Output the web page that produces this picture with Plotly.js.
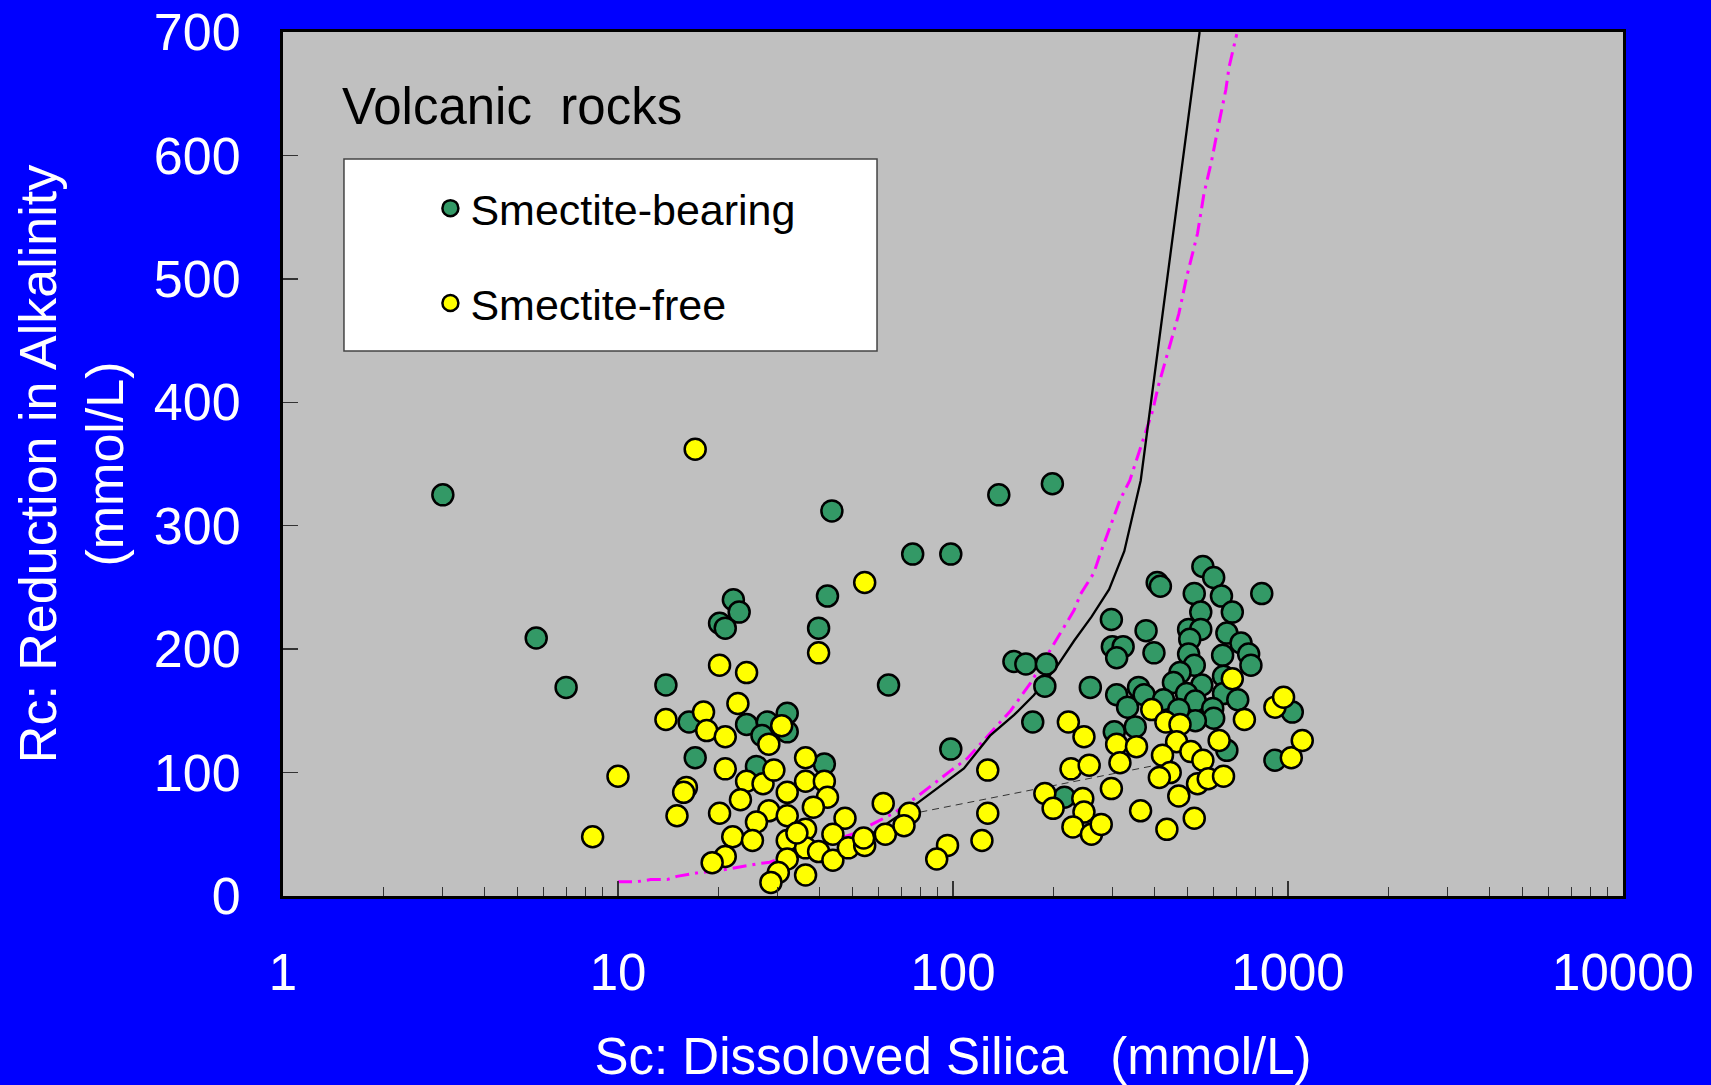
<!DOCTYPE html>
<html>
<head>
<meta charset="utf-8">
<script src="https://cdn.plot.ly/plotly-3.0.1.min.js"></script>
<style>
  html, body { margin: 0; padding: 0; background: #0000FF; }
  #chart { width: 1711px; height: 1085px; }
</style>
</head>
<body>
<div id="chart"></div>
<script>
// ---- Smectite-bearing (green) samples: dissolved silica, reduction in alkalinity
const bearingSilica = [
  3.0, 5.7, 7.0, 13.9, 16.3, 17.0, 20.1, 20.9, 22.1, 23.0, 24.2, 27.9, 32.0, 32.0, 26.9, 25.9,
  41.3, 43.5, 42.2, 39.7, 64.2, 75.8, 98.5, 98.5, 137, 198, 152, 165, 190, 188, 173, 257, 215,
  557, 600, 407, 416, 525, 633, 835, 549, 682, 297, 377, 505, 549, 657, 509, 724, 763, 775,
  299, 322, 308, 398, 638, 505, 525, 476, 553, 455, 642, 642, 708, 308, 332, 358, 372, 425,
  498, 529, 596, 1030, 914, 350, 303, 657, 600, 529, 472
];
const bearingAlk = [
  325, 209, 169, 171, 141, 112, 221, 217, 240, 230, 139, 141, 148, 133, 130, 105,
  107, 312, 243, 217, 171, 277, 277, 119, 325, 334, 190, 188, 188, 170, 141, 169, 80,
  267, 258, 254, 251, 245, 243, 245, 230, 230, 224, 215, 216, 216, 213, 208, 205, 196, 187,
  202, 202, 193, 197, 195, 196, 187, 181, 171, 173, 178, 164, 159, 163, 153, 169, 163, 159,
  164, 158, 152, 149, 110, 137, 133, 118, 144, 142, 151
];

// ---- Smectite-free (yellow) samples
const freeSilica = [
  17.0, 54.5, 39.7, 20.1, 24.2, 22.8, 13.9, 18.0, 18.4, 20.9, 30.8, 28.2, 36.3, 10.0, 20.9,
  16.0, 15.7, 24.2, 27.1, 29.2, 32.0, 23.2, 28.2, 32.0, 36.3, 41.3, 42.2, 38.3, 47.6, 15.0,
  20.1, 25.9, 22.0, 25.2, 32.0, 36.3, 43.8, 36.3, 39.7, 43.8, 48.7, 32.0, 20.9, 19.1, 30.1,
  28.6, 36.3, 54.5, 54.1, 61.9, 62.8, 74.1, 71.4, 127, 127, 122, 96.3, 89.4, 8.4, 34.2,
  221, 246, 225, 255, 188, 199, 244, 246, 228, 259, 277, 297, 308, 315, 353, 363, 392, 432,
  476, 465, 422, 445, 413, 472, 435, 525, 513, 557, 537, 578, 642, 623, 741, 914, 970, 1023,
  1103, 682
];
const freeAlk = [
  362, 254, 197, 187, 181, 156, 143, 149, 134, 129, 138, 123, 112, 97, 103,
  88, 84, 93, 91, 102, 84, 78, 69, 65, 93, 93, 80, 72, 63, 65,
  67, 60, 48, 45, 45, 54, 50, 39, 36, 29, 39, 30, 32, 27, 19,
  11, 17, 41, 47, 75, 50, 67, 57, 102, 67, 45, 41, 30, 48, 51,
  141, 129, 103, 106, 83, 71, 79, 68, 56, 50, 58, 87, 123, 108, 121, 69, 151, 141,
  139, 125, 114, 100, 96, 81, 54, 63, 117, 110, 91, 95, 97, 126, 143, 153, 161, 112,
  126, 176
];

// ---- Model curves
const solidSilica = [56.6, 78.1, 107.8, 129, 152.2, 174.2, 203.9, 229.9, 259.3, 292.4, 324.6, 352.6, 363.4, 544.7];
const solidAlk    = [49.5, 75.1, 103.4, 129.9, 146.7, 162.6, 185.6, 206.8, 226.3, 248.4, 279.3, 320.8, 336.7, 700];

const magentaSilica = [10, 11.36, 12.52, 14.02, 14.99, 17.16, 20.70, 23.34, 26.72, 28.37, 50.5, 59.2, 66.7,
  78.1, 87.4, 98.5, 110.3, 126.2, 148.8, 170.3, 195.0, 208.6, 229.9, 240.5, 263.2, 275.3, 315.1,
  337.1, 357.9, 374.4, 394.6, 409.7, 425.4, 444.9, 472.5, 497.9, 520.8, 536.7, 561.4, 591.6,
  618.8, 652.2, 667.1, 703.1];
const magentaAlk = [11.5, 11.5, 13.3, 13.3, 15.9, 18.6, 21.2, 23.9, 26.5, 27.4, 50.4, 60.1, 67.2,
  80.4, 91.0, 101.6, 111.4, 129.0, 150.3, 172.4, 198.9, 213.0, 231.6, 244.8, 261.6, 277.5, 320.8,
  336.7, 358.8, 374.8, 393.3, 412.8, 428.7, 447.2, 472.0, 501.1, 523.2, 536.5, 569.2, 595.7,
  623.1, 653.2, 671.7, 698.3];

const dashedSilica = [79.9, 422];
const dashedAlk    = [68, 107];

// ---- Axis ticks / labels
const xTickVals = [1, 10, 100, 1000, 10000];
const xTickText = ['1', '10', '100', '1000', '10000'];
const yTickVals = [0, 100, 200, 300, 400, 500, 600, 700];

const FONT = '"Liberation Sans", Arial, Helvetica, sans-serif';

const traces = [
  {
    x: magentaSilica, y: magentaAlk, type: 'scatter', mode: 'lines',
    line: { color: '#FF00FF', width: 3, dash: '14px,6px,3px,6px' },
    showlegend: false, hoverinfo: 'skip'
  },
  {
    x: solidSilica, y: solidAlk, type: 'scatter', mode: 'lines',
    line: { color: '#000000', width: 2.3 },
    showlegend: false, hoverinfo: 'skip'
  },
  {
    x: dashedSilica, y: dashedAlk, type: 'scatter', mode: 'lines',
    line: { color: '#333333', width: 1, dash: '7px,5px' },
    showlegend: false, hoverinfo: 'skip'
  },
  {
    name: 'Smectite-bearing', legendgroup: 'g1',
    x: bearingSilica, y: bearingAlk, type: 'scatter', mode: 'markers',
    marker: { color: '#339966', size: 21, line: { color: '#000000', width: 2.5 } }
  },
  {
    name: 'Smectite-free', legendgroup: 'g2',
    x: freeSilica, y: freeAlk, type: 'scatter', mode: 'markers',
    marker: { color: '#FFFF00', size: 21, line: { color: '#000000', width: 2.5 } }
  }
];

const layout = {
  width: 1711, height: 1085,
  paper_bgcolor: '#0000FF',
  plot_bgcolor: '#C0C0C0',
  margin: { l: 283, r: 88, t: 32, b: 189, pad: 0 },
  font: { family: FONT, color: '#FFFFFF', size: 51 },
  showlegend: true,
  legend: {
    x: 0.11, y: 0.836, xanchor: 'left', yanchor: 'top',
    bgcolor: 'rgba(0,0,0,0)', borderwidth: 0,
    font: { family: FONT, size: 43, color: '#000000' },
    tracegroupgap: 36, traceorder: 'grouped'
  },
  xaxis: {
    type: 'log', range: [0, 4],
    tickvals: xTickVals, ticktext: xTickText,
    ticks: 'inside', ticklen: 15, tickwidth: 1.5, tickcolor: '#333333',
    minor: { dtick: 'D1', ticks: 'inside', ticklen: 9, tickwidth: 1.2, tickcolor: '#333333', showgrid: false },
    showgrid: false, zeroline: false,
    showline: true, linecolor: '#000000', linewidth: 3, mirror: true,
    tickfont: { family: FONT, size: 51, color: '#FFFFFF' },
    ticklabelstandoff: 30,
    title: {
      text: 'Sc: Dissoloved Silica&nbsp;&nbsp;&nbsp;(mmol/L)',
      font: { family: FONT, size: 51, color: '#FFFFFF' },
      standoff: 40
    }
  },
  yaxis: {
    range: [0, 700],
    tickvals: yTickVals,
    ticks: 'inside', ticklen: 15, tickwidth: 1.5, tickcolor: '#333333',
    showgrid: false, zeroline: false,
    showline: true, linecolor: '#000000', linewidth: 3, mirror: true,
    tickfont: { family: FONT, size: 52, color: '#FFFFFF' },
    ticklabelstandoff: 29,
    title: {
      text: 'Rc: Reduction in Alkalinity<br>(mmol/L)',
      font: { family: FONT, size: 52, color: '#FFFFFF' },
      standoff: 14
    }
  },
  shapes: [
    {
      type: 'rect', xref: 'paper', yref: 'paper',
      x0: 0.0455, x1: 0.4433, y0: 0.6308, y1: 0.853,
      fillcolor: '#FFFFFF', line: { color: '#444444', width: 1.5 }, layer: 'above'
    }
  ],
  annotations: [
    {
      text: 'Volcanic&nbsp;&nbsp;rocks', xref: 'paper', yref: 'paper',
      x: 0.0425, y: 0.914, xanchor: 'left', yanchor: 'middle', showarrow: false,
      font: { family: FONT, size: 51, color: '#000000' }
    }
  ]
};

Plotly.newPlot('chart', traces, layout, { staticPlot: true, displayModeBar: false });
</script>
</body>
</html>
